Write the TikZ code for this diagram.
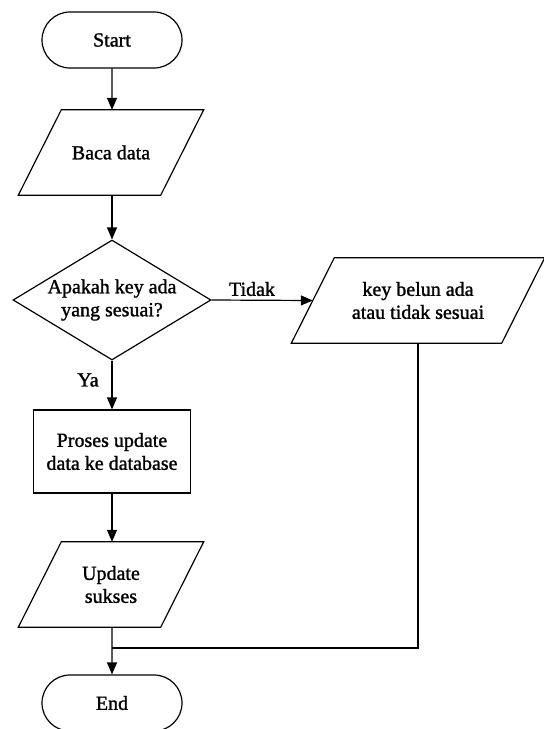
\documentclass[tikz,border=0pt]{standalone}
\usepackage{fontspec}
\setmainfont[FakeBold=1.3]{Liberation Serif}
\usetikzlibrary{shapes.geometric,shapes.misc,arrows.meta,calc}
% slanted outline of a data box, drawn round the node's upright core
\newcommand\ioframe[1]{%
  \draw[pen, line join=miter]
    ($(#1.south west)+(-21.5,0)$) --
    ($(#1.north west)+(21.5,0)$) --
    ($(#1.north east)+(21.5,0)$) --
    ($(#1.south east)+(-21.5,0)$) -- cycle;}
\begin{document}
\begin{tikzpicture}[x=1pt,y=-1pt,
  every node/.style={font=\fontsize{20}{23}\selectfont, align=center},
  pen/.style={line width=1.2pt},
  base/.style={draw, pen, inner sep=0pt},
  term/.style={base, rounded rectangle, minimum width=140pt, minimum height=56pt},
  io/.style={inner sep=0pt, rectangle, minimum height=85pt},
  proc/.style={base, rectangle, minimum width=157pt, minimum height=83pt},
  decide/.style={base, diamond, aspect=1.65, minimum width=198pt, minimum height=120pt},
  flow/.style={pen, -{Triangle[length=12pt,width=10pt]}},
  link/.style={pen},
  tag/.style={inner sep=0pt}
]
\useasboundingbox (0,0) rectangle (544,729);

% main column
\node[term] (start) at (112,40) {Start};
\node[io, minimum width=142pt] (read) at (111,152.5) {Baca data};
\node[decide] (check) at (112,300) {Apakah key ada\\yang sesuai?};
\node[proc] (update) at (112,451.5) {Proses update\\data ke database};
\node[io, minimum width=142pt] (ok) at (111,584.5) {Update\\sukses};
\node[term] (end) at (112,703) {End};

% failure branch
\node[io, minimum width=210pt] (fail) at (418,300.5) {key belun ada\\atau tidak sesuai};
\coordinate (join) at (112,648);

\ioframe{read}
\ioframe{ok}
\ioframe{fail}

% branch labels
\node[tag] (no) at (252,289) {Tidak};
\node[tag] (yes) at (88,380) {Ya};

% connectors
\draw[flow] (start) -- (start |- read.north);
\draw[flow] (start |- read.south) -- (check);
\draw[flow] (check.east) -- (fail.west);
\draw[flow] (check) -- (update);
\draw[flow] (update) -- (update |- ok.north);
\draw[flow] (update |- ok.south) -- (end);
\draw[link] (fail.south) |- (join);
\end{tikzpicture}
\end{document}
